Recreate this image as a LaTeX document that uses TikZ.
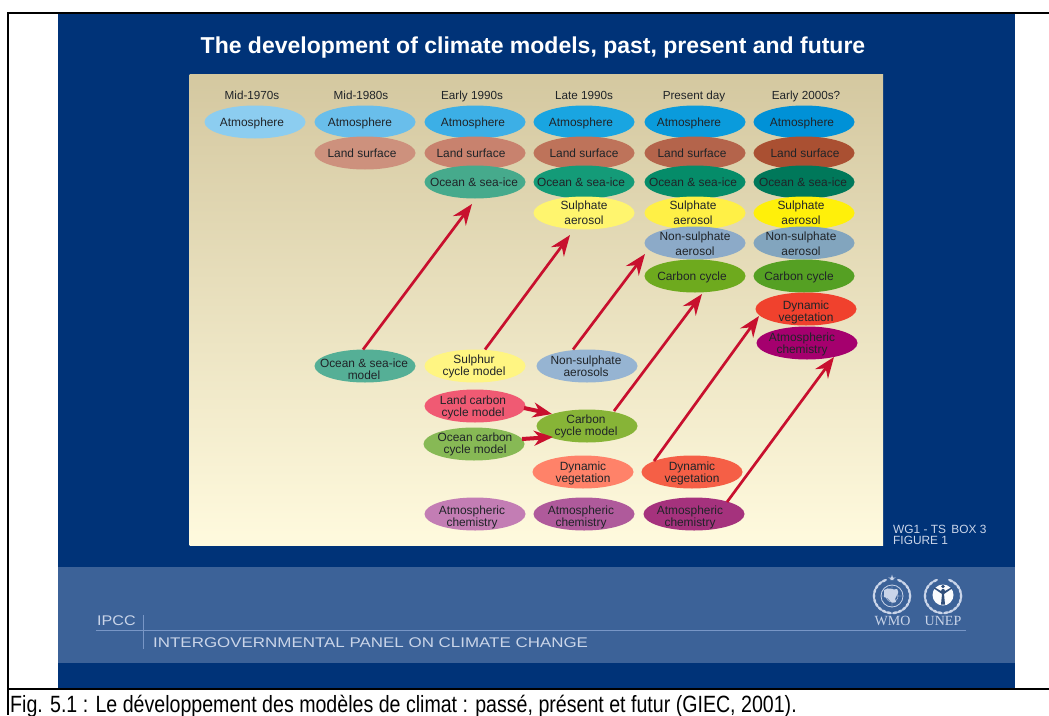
\documentclass[tikz,border=0pt]{standalone}
\usepackage{fontspec}
\setmainfont{Liberation Sans}
\newfontfamily\logofont{Liberation Serif}
\usetikzlibrary{shapes.geometric,arrows.meta}
\definecolor{bgblue}{RGB}{0,51,120}
\definecolor{bandblue}{RGB}{60,98,152}
\definecolor{ruleblue}{RGB}{120,150,198}
\definecolor{paletxt}{RGB}{202,213,233}
\definecolor{panelA}{RGB}{212,200,160}
\definecolor{panelB}{RGB}{255,250,222}
\definecolor{arrred}{RGB}{200,16,46}
\definecolor{inktxt}{RGB}{32,36,40}
\newcommand\tx[3][0]{\kern#2pt\kern#2pt\raisebox{\dimexpr-4.5pt-#1pt\relax}[0pt][0pt]{\begin{tabular}{@{}c@{}}#3\end{tabular}}}
\tikzset{
  ell/.style args={#1,#2,#3}{ellipse,minimum width=101pt,minimum height=33pt,inner sep=-20pt,outer sep=0pt,
    text=inktxt,font=\fontsize{11.9}{11.5}\selectfont,fill={rgb,255:red,#1;green,#2;blue,#3}},
  head/.style={inner sep=0pt,text=inktxt,text height=9pt,text depth=3pt,font=\fontsize{11.7}{14}\selectfont},
  arr/.style={draw=arrred,line width=2.7pt,-{Stealth[length=21pt,width=16pt,inset=7pt]}},
  arrs/.style={draw=arrred,line width=4pt,-{Stealth[length=19pt,width=15pt,inset=6pt]}},
  pale/.style={inner sep=0pt,text=paletxt,anchor=west},
  leaf/.style={fill=paletxt,draw=none,ellipse,inner sep=0pt,minimum width=6pt,minimum height=2.6pt},
}
\begin{document}
\begin{tikzpicture}[x=1pt,y=-1pt]
\useasboundingbox (0,0) rectangle (1049,715);
\fill[white] (0,0) rectangle (1049,715);
\fill[bgblue] (58,13) rectangle (1015,688);
\fill[bandblue] (58,567) rectangle (1015,663);
\shade[top color=panelA,bottom color=panelB] (189.5,74.5) rectangle (883,545);
\draw[black,line width=2pt] (1049,13) -- (8,13) -- (8,715);
\draw[black,line width=2pt] (8,688.5) -- (1049,688.5);
\draw[ruleblue,line width=1pt] (96,630) -- (966,630);
\draw[ruleblue,line width=.7pt] (143,615) -- (143,649);

\node[inner sep=0pt,anchor=base,text=white,font=\fontsize{23}{28}\selectfont\bfseries] (title) at (533,53.3) {The development of climate models, past, present and future};

\node[head] (h1) at (252,96) {Mid-1970s};
\node[head] (h2) at (361,96) {Mid-1980s};
\node[head] (h3) at (472,96) {Early 1990s};
\node[head] (h4) at (584,96) {Late 1990s};
\node[head] (h5) at (694,96) {Present day};
\node[head] (h6) at (806,96) {Early 2000s?};

% stacked model components
\node[ell={140,205,240}] (a1) at (255,122) {\tx{-3}{Atmosphere}};
\node[ell={105,190,235}] (a2) at (365,122) {\tx{-5}{Atmosphere}};
\node[ell={60,175,230}]  (a3) at (475,122) {\tx{-2}{Atmosphere}};
\node[ell={25,165,225}]  (a4) at (584,122) {\tx{-3}{Atmosphere}};
\node[ell={10,155,220}]  (a5) at (695,122) {\tx{-6}{Atmosphere}};
\node[ell={0,145,215}]   (a6) at (804,122) {\tx{-2}{Atmosphere}};

\node[ell={205,145,125}] (l2) at (365,153) {\tx{-3}{Land surface}};
\node[ell={200,130,110}] (l3) at (475,153) {\tx{-4}{Land surface}};
\node[ell={190,115,90}]  (l4) at (584,153) {\tx{0}{Land surface}};
\node[ell={180,100,75}]  (l5) at (695,153) {\tx{-3}{Land surface}};
\node[ell={170,80,50}]   (l6) at (804,153) {\tx{1}{Land surface}};

\node[ell={70,170,140}]  (o3) at (475,182) {\tx{-1}{Ocean \& sea-ice}};
\node[ell={20,155,120}]  (o4) at (584,182) {\tx{-3}{Ocean \& sea-ice}};
\node[ell={5,140,105}]   (o5) at (695,182) {\tx{-2}{Ocean \& sea-ice}};
\node[ell={0,120,90}]    (o6) at (804,182) {\tx{-1}{Ocean \& sea-ice}};

\node[ell={255,245,110}] (s4) at (584,213) {\tx{0}{Sulphate\\[3pt]aerosol}};
\node[ell={255,240,70}]  (s5) at (695,213) {\tx{-2}{Sulphate\\[3pt]aerosol}};
\node[ell={255,240,10}]  (s6) at (804,213) {\tx{-3}{Sulphate\\[3pt]aerosol}};

\node[ell={140,170,200}] (n5) at (695,243) {\tx[1]{0}{Non-sulphate\\[3pt]aerosol}};
\node[ell={130,165,190}] (n6) at (804,243) {\tx[1]{-3}{Non-sulphate\\[3pt]aerosol}};

\node[ell={110,170,30}]  (c5) at (695,276) {\tx{-3}{Carbon cycle}};
\node[ell={85,160,35}]   (c6) at (804,276) {\tx{-5}{Carbon cycle}};

\node[ell={240,65,45}]   (d6) at (806,309) {\tx[2]{0}{Dynamic\\vegetation}};
\node[ell={165,0,110}]   (k6) at (807,343) {\tx{-5}{Atmospheric\\chemistry}};

% separate models
\node[ell={85,175,150}]  (om) at (365,366) {\tx[3]{-1}{Ocean \& sea-ice\\model}};
\node[ell={255,245,130}] (su) at (475,366) {\tx[-1]{-1}{Sulphur\\cycle model}};
\node[ell={150,180,210}] (ns) at (587,366) {\tx{-1}{Non-sulphate\\aerosols}};
\node[ell={240,90,115}]  (lc) at (475,406) {\tx{-2}{Land carbon\\cycle model}};
\node[ell={135,185,85}]  (oc) at (474,444) {\tx[-1]{1}{Ocean carbon\\cycle model}};
\node[ell={135,180,55}]  (cm) at (587,426) {\tx[-1]{-1}{Carbon\\cycle model}};
\node[ell={255,130,105}] (d4) at (583,472) {\tx{0}{Dynamic\\vegetation}};
\node[ell={245,95,70}]   (d5) at (692,472) {\tx{0}{Dynamic\\vegetation}};
\node[ell={195,125,180}] (k3) at (475,514) {\tx[2]{-3}{Atmospheric\\chemistry}};
\node[ell={175,90,155}]  (k4) at (584,514) {\tx[2]{-3}{Atmospheric\\chemistry}};
\node[ell={165,50,125}]  (k5) at (694,514) {\tx[2]{-4}{Atmospheric\\chemistry}};

% connectors
\draw[arr] ([shift={(-2,0)}]om.north) -- ([shift={(-3,5.5)}]o3.south);
\draw[arr] ([shift={(10,0)}]su.north) -- ([shift={(-14,5.5)}]s4.south);
\draw[arr] ([shift={(-14,0)}]ns.north) -- ([shift={(.5,11)}]n5.west);
\draw[arr] ([shift={(27,1.5)}]cm.north) -- ([shift={(7,1.5)}]c5.south);
\draw[arr] ([shift={(-38,5.5)}]d5.north) -- ([shift={(3.5,7)}]d6.west);
\draw[arr] ([shift={(33,4.5)}]k5.north) -- ([shift={(27,-2.5)}]k6.south);
\draw[arrs] ([shift={(-1.5,2)}]lc.east) -- ([shift={(15.5,-12)}]cm.west);
\draw[arrs] ([shift={(-2.5,-5)}]oc.east) -- ([shift={(16.5,11)}]cm.west);

% side and footer text
\node[pale,font=\fontsize{11.9}{11.5}\selectfont] (wg) at (893,529) {WG1 - TS\, BOX 3};
\node[pale,font=\fontsize{11.9}{11.5}\selectfont] (fg) at (893,540) {FIGURE 1};
\node[pale,font=\fontsize{14}{17}\selectfont] (ipcc) at (97,621) {\scalebox{1.15}[1]{IPCC}};
\node[pale,font=\fontsize{14}{17}\selectfont] (panel) at (153,643) {\scalebox{1.21}[1]{INTERGOVERNMENTAL PANEL ON CLIMATE CHANGE}};
\node[inner sep=0pt,anchor=base west,text=black,font=\fontsize{19.6}{22}\selectfont] (cap) at (10,712) {\scalebox{1}[1.2]{Fig. 5.1 : Le développement des modèles de climat : passé, présent et futur (GIEC, 2001).}};

% logos
\foreach \cx/\cy in {892/596,943/596}{
  \foreach \a in {10,26,...,156}{
    \node[leaf,rotate=\a] (lf) at ({\cx+18*sin(\a)},{\cy+17*cos(\a)}) {};
    \node[leaf,rotate=-\a] (rf) at ({\cx-18*sin(\a)},{\cy+17*cos(\a)}) {};
  }
}
\fill[paletxt] (892,574.5) -- (893.6,580) -- (890.4,580) -- cycle;
\fill[paletxt] (888,577.5) -- (896,577.5) -- (892,579.5) -- cycle;
\draw[paletxt,line width=.8pt] (892,596) circle (11);
\draw[paletxt,line width=.4pt] (881,596) -- (903,596) (892,585) -- (892,607) (892,596) circle (6);
\fill[paletxt] (884,590) .. controls (889,586) and (893,591) .. (897,589) .. controls (901,595) and (893,595) .. (896,602) .. controls (889,605) and (890,597) .. (884,597) -- cycle;
\fill[white!90!paletxt] (943,595) circle (10.5);
\fill[bandblue!80!black] (942,594) -- (934,588.5) -- (934.5,587.3) -- (941,591) -- (942,589) -- (944,589) -- (945,591) -- (951.5,587.3) -- (952,588.5) -- (944,594) -- (945,604.5) -- (941,604.5) -- cycle;
\fill[bandblue!80!black] (943,586.5) circle (1.8);
\node[inner sep=0pt,text=paletxt,font=\logofont\fontsize{14}{15}\selectfont] (wmo) at (892.5,621) {WMO};
\node[inner sep=0pt,text=paletxt,font=\logofont\fontsize{14}{15}\selectfont] (unep) at (943,621) {UNEP};
\end{tikzpicture}
\end{document}
